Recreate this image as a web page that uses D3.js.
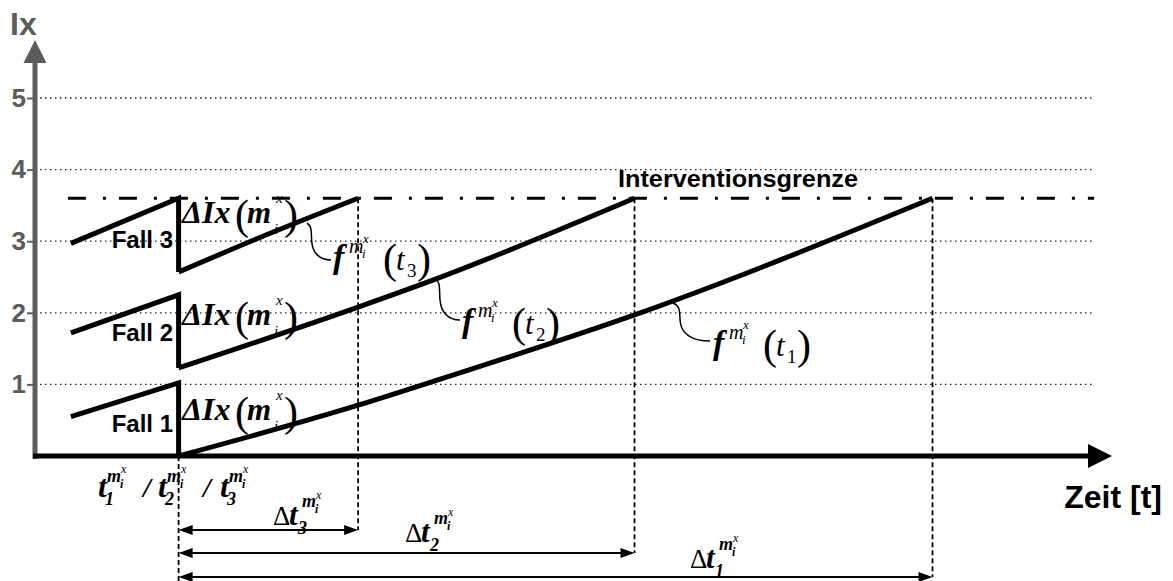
<!DOCTYPE html>
<html><head><meta charset='utf-8'>
<script src='https://d3js.org/d3.v7.min.js'></script>
<style>body{margin:0;background:#fff;} svg{display:block;}</style>
</head><body><svg id='chart'></svg><script>
// values: t in arbitrary time units, Ix in index units
const yTicks=[1,2,3,4,5];
const grenze=3.6;
const tStart=1, tEingriff=4;
const fallNames=['Fall 1','Fall 2','Fall 3'];
const vorher=[[0.55,1.02],[1.72,2.25],[2.97,3.6]];      // Ix at tStart / just before tEingriff
const nachT=[[4,9,11.2,16.7,25],[4,9,11.1,16.7],[4,6.5,9]];
const nachIx=[[0,0.71,1.06,1.97,3.6],[1.23,2.08,2.46,3.6],[2.57,3.1,3.6]];
const tEnde=[25,16.7,9];
const tDigits=['1','2','3'];

const W=1173,H=581;
const serif="'Liberation Serif','Times New Roman',serif",
      sans="'Liberation Sans',Arial,sans-serif",
      grey='#5c5c5c';
const svg=d3.select('#chart').attr('width',W).attr('height',H);
const x=d3.scaleLinear().domain([0,30]).range([35,1112]),
      y=d3.scaleLinear().domain([0,5]).range([456,98]);

function txt(g,px,py,s,size,o={}) {
  return g.append('text').attr('x',px).attr('y',py).text(s)
    .attr('font-family',o.fam||serif).attr('font-size',size)
    .attr('font-style',o.it?'italic':'normal')
    .attr('font-weight',o.b?'bold':'normal')
    .attr('fill',o.fill||'#000');
}

// grid
svg.append('g').selectAll('line').data(yTicks).join('line')
   .attr('x1',x(0)).attr('x2',x(29.5)).attr('y1',d=>y(d)).attr('y2',d=>y(d))
   .attr('stroke','#222').attr('stroke-width',1.3).attr('stroke-dasharray','1.5,3.5');

// y axis
const ya=svg.append('g').attr('transform',`translate(${x(0)},0)`)
   .call(d3.axisLeft(y).tickValues(yTicks).tickSize(8).tickPadding(1).tickFormat(d3.format('d')));
ya.select('.domain').remove();
ya.selectAll('line').attr('stroke',grey).attr('stroke-width',2);
ya.selectAll('text').attr('font-family',sans).attr('font-size',26)
  .attr('font-weight','bold').attr('fill',grey);
svg.append('line').attr('x1',x(0)).attr('x2',x(0)).attr('y1',y(0)+3).attr('y2',62)
   .attr('stroke',grey).attr('stroke-width',5);
svg.append('path').attr('d',`M${x(0)-11.5},63L${x(0)+11.5},63L${x(0)},40Z`).attr('fill',grey);
txt(svg,10,35,'Ix',32,{fam:sans,b:true,fill:grey});

// x axis
svg.append('line').attr('x1',x(0)-2).attr('x2',1090).attr('y1',y(0)).attr('y2',y(0))
   .attr('stroke','#000').attr('stroke-width',5);
svg.append('path').attr('d',`M1088,${y(0)-12}L1088,${y(0)+12}L1112,${y(0)}Z`);
txt(svg,1162,508,'Zeit [t]',32,{fam:sans,b:true}).attr('text-anchor','end');

// intervention limit
svg.append('line').attr('x1',x(tStart)-3).attr('x2',x(29.5)).attr('y1',y(grenze)).attr('y2',y(grenze))
   .attr('stroke','#000').attr('stroke-width',3).attr('stroke-dasharray','18,17,3,13');
txt(svg,618,187,'Interventionsgrenze',24,{fam:sans,b:true})
   .attr('textLength',240).attr('lengthAdjust','spacingAndGlyphs');

// dashed verticals + delta arrows
svg.append('line').attr('x1',x(tEingriff)).attr('x2',x(tEingriff)).attr('y1',y(0)).attr('y2',581)
   .attr('stroke','#000').attr('stroke-width',1.8).attr('stroke-dasharray','5,3');
const arrowY=[577,553,530];
tEnde.forEach((te,i)=>{
  svg.append('line').attr('x1',x(te)).attr('x2',x(te)).attr('y1',y(grenze)).attr('y2',arrowY[i])
     .attr('stroke','#000').attr('stroke-width',1.8).attr('stroke-dasharray','5,3');
  const a=x(tEingriff),b=x(te),yy=arrowY[i];
  svg.append('line').attr('x1',a+6).attr('x2',b-6).attr('y1',yy).attr('y2',yy)
     .attr('stroke','#000').attr('stroke-width',2);
  svg.append('path').attr('d',`M${a},${yy}L${a+14},${yy-5}L${a+14},${yy+5}Z`);
  svg.append('path').attr('d',`M${b},${yy}L${b-14},${yy-5}L${b-14},${yy+5}Z`);
});

// fall curves
const lin=d3.line().x(d=>x(d[0])).y(d=>y(d[1]));
const mono=d3.line().curve(d3.curveMonotoneX).x(d=>x(d[0])).y(d=>y(d[1]));
fallNames.forEach((n,i)=>{
  svg.append('path').attr('d',lin([[tStart,vorher[i][0]],[tEingriff,vorher[i][1]],[tEingriff,nachIx[i][0]]]))
     .attr('fill','none').attr('stroke','#000').attr('stroke-width',5).attr('stroke-linejoin','miter');
  svg.append('path').attr('d',mono(nachT[i].map((t,k)=>[t,nachIx[i][k]])))
     .attr('fill','none').attr('stroke','#000').attr('stroke-width',5);
});

// Fall labels
const fallLabelIx=[0.34,1.6,2.9];
fallNames.forEach((n,i)=>txt(svg,173,y(fallLabelIx[i]),n,24,{fam:sans,b:true}).attr('text-anchor','end'));

// ΔIx(m_i^x) labels
const dIxBase=[420,325,223];
dIxBase.forEach(b=>{
  const x0=182;
  txt(svg,x0,b,'ΔIx',32,{it:true,b:true});
  txt(svg,x0+53,b+6,'(',42);
  txt(svg,x0+65,b,'m',31,{it:true,b:true});
  txt(svg,x0+94,b-20,'x',15,{it:true});
  txt(svg,x0+92,b+11,'i',15,{it:true});
  txt(svg,x0+102,b+6,')',42);
});

// f^{m_i^x}(t_k) labels with leader lines
const fLab=[{x0:713,b:354,from:[673,303],to:[710,341],k:'1'},
            {x0:462,b:332,from:[435,278],to:[460,320],k:'2'},
            {x0:333,b:268,from:[307,223],to:[331,260],k:'3'}];
fLab.forEach(f=>{
  const [sx,sy]=f.from,[ex,ey]=f.to,dx=ex-sx,dy=ey-sy;
  svg.append('path').attr('fill','none').attr('stroke','#000').attr('stroke-width',1.5)
     .attr('d',`M${sx},${sy}C${sx+0.24*dx},${sy+0.1*dy} ${sx+0.16*dx},${sy+0.29*dy} ${sx+0.2*dx},${sy+0.52*dy}`+
               `C${sx+0.24*dx},${sy+0.81*dy} ${sx+0.52*dx},${ey} ${ex},${ey}`);
  const x0=f.x0,b=f.b;
  txt(svg,x0,b,'f',34,{it:true,b:true});
  txt(svg,x0+16,b-15,'m',20,{it:true});
  txt(svg,x0+30,b-25,'x',13,{it:true});
  txt(svg,x0+29,b-10,'i',13,{it:true});
  txt(svg,x0+50,b+5,'(',42);
  txt(svg,x0+63,b+2,'t',31,{it:true});
  txt(svg,x0+74,b+9,f.k,19);
  txt(svg,x0+84,b+5,')',42);
});

// t_k^{m_i^x} labels under the axis
const tLabX=[98,158,220];
tDigits.forEach((d,i)=>{
  const x0=tLabX[i],b=497;
  txt(svg,x0,b,'t',32,{it:true,b:true});
  txt(svg,x0+9,b-15,'m',18,{it:true,b:true});
  txt(svg,x0+23,b-24,'x',12,{it:true});
  txt(svg,x0+22,b-9,'i',12,{it:true,b:true});
  txt(svg,x0+7,b+8,d,18,{it:true,b:true});
});
txt(svg,143,497,'/',28,{it:true,b:true});
txt(svg,203,497,'/',28,{it:true,b:true});

// Δt_k^{m_i^x} labels
const dtLab=[[690,568],[405,542],[273,525]];
dtLab.forEach(([x0,b],i)=>{
  txt(svg,x0,b,'Δ',27);
  txt(svg,x0+16,b,'t',31,{it:true,b:true});
  txt(svg,x0+29,b-18,'m',18,{it:true,b:true});
  txt(svg,x0+43,b-26,'x',12,{it:true});
  txt(svg,x0+42,b-12,'i',12,{it:true,b:true});
  txt(svg,x0+25,b+9,tDigits[i],18,{it:true,b:true});
});
</script></body></html>
